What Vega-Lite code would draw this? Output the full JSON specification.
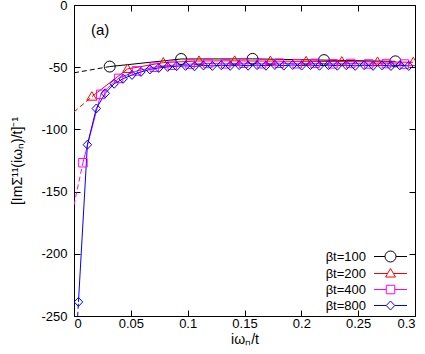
{
  "$schema": "https://vega.github.io/schema/vega-lite/v6.json",
  "width": 341,
  "height": 311,
  "autosize": {"type": "none"},
  "padding": {"left": 74, "top": 5, "right": 10, "bottom": 38},
  "background": "white",
  "config": {
    "view": {"stroke": "black", "strokeWidth": 1},
    "font": "Liberation Sans",
    "axis": {"grid": false, "domain": false, "labelFont": "Liberation Sans", "labelFontSize": 13, "labelColor": "black", "titleFont": "Liberation Sans", "titleFontSize": 14, "titleFontWeight": "normal", "titleColor": "black", "tickColor": "black"}
  },
  "datasets": {
    "curves": [
      {"s": "βt=100", "k": "f", "x": 0, "y": -54.5},
      {"s": "βt=100", "k": "f", "x": 0.03142, "y": -49.5},
      {"s": "βt=200", "k": "f", "x": 0, "y": -86},
      {"s": "βt=200", "k": "f", "x": 0.01571, "y": -73.7},
      {"s": "βt=400", "k": "f", "x": 0, "y": -160.8},
      {"s": "βt=400", "k": "f", "x": 0.00785, "y": -126.8},
      {"s": "βt=800", "k": "f", "x": 0, "y": -302},
      {"s": "βt=800", "k": "f", "x": 0.00393, "y": -238.7},
      {"s": "βt=100", "k": "d", "x": 0.03142, "y": -49.5},
      {"s": "βt=100", "k": "d", "x": 0.09425, "y": -43.4},
      {"s": "βt=100", "k": "d", "x": 0.15708, "y": -43.3},
      {"s": "βt=100", "k": "d", "x": 0.21991, "y": -44.3},
      {"s": "βt=100", "k": "d", "x": 0.28274, "y": -45.3},
      {"s": "βt=200", "k": "d", "x": 0.01571, "y": -73.7},
      {"s": "βt=200", "k": "d", "x": 0.04712, "y": -51.4},
      {"s": "βt=200", "k": "d", "x": 0.07854, "y": -46.3},
      {"s": "βt=200", "k": "d", "x": 0.10996, "y": -45.0},
      {"s": "βt=200", "k": "d", "x": 0.14137, "y": -44.9},
      {"s": "βt=200", "k": "d", "x": 0.17279, "y": -45.1},
      {"s": "βt=200", "k": "d", "x": 0.20420, "y": -45.3},
      {"s": "βt=200", "k": "d", "x": 0.23562, "y": -45.5},
      {"s": "βt=200", "k": "d", "x": 0.26704, "y": -45.8},
      {"s": "βt=200", "k": "d", "x": 0.29845, "y": -46.0},
      {"s": "βt=400", "k": "d", "x": 0.00785, "y": -126.8},
      {"s": "βt=400", "k": "d", "x": 0.02356, "y": -71.8},
      {"s": "βt=400", "k": "d", "x": 0.03927, "y": -59.0},
      {"s": "βt=400", "k": "d", "x": 0.05498, "y": -53.0},
      {"s": "βt=400", "k": "d", "x": 0.07069, "y": -50.0},
      {"s": "βt=400", "k": "d", "x": 0.08639, "y": -48.4},
      {"s": "βt=400", "k": "d", "x": 0.10210, "y": -47.5},
      {"s": "βt=400", "k": "d", "x": 0.11781, "y": -47.0},
      {"s": "βt=400", "k": "d", "x": 0.13352, "y": -47.3},
      {"s": "βt=400", "k": "d", "x": 0.14923, "y": -46.8},
      {"s": "βt=400", "k": "d", "x": 0.16493, "y": -47.2},
      {"s": "βt=400", "k": "d", "x": 0.18064, "y": -46.8},
      {"s": "βt=400", "k": "d", "x": 0.19635, "y": -47.2},
      {"s": "βt=400", "k": "d", "x": 0.21206, "y": -46.9},
      {"s": "βt=400", "k": "d", "x": 0.22777, "y": -47.3},
      {"s": "βt=400", "k": "d", "x": 0.24347, "y": -47.0},
      {"s": "βt=400", "k": "d", "x": 0.25918, "y": -47.4},
      {"s": "βt=400", "k": "d", "x": 0.27489, "y": -47.1},
      {"s": "βt=400", "k": "d", "x": 0.29060, "y": -47.5},
      {"s": "βt=800", "k": "d", "x": 0.00393, "y": -238.7},
      {"s": "βt=800", "k": "d", "x": 0.01178, "y": -112.3},
      {"s": "βt=800", "k": "d", "x": 0.01963, "y": -83.2},
      {"s": "βt=800", "k": "d", "x": 0.02749, "y": -71.0},
      {"s": "βt=800", "k": "d", "x": 0.03534, "y": -63.3},
      {"s": "βt=800", "k": "d", "x": 0.04320, "y": -59.3},
      {"s": "βt=800", "k": "d", "x": 0.05105, "y": -56.2},
      {"s": "βt=800", "k": "d", "x": 0.05890, "y": -53.8},
      {"s": "βt=800", "k": "d", "x": 0.06676, "y": -51.8},
      {"s": "βt=800", "k": "d", "x": 0.07461, "y": -50.6},
      {"s": "βt=800", "k": "d", "x": 0.08247, "y": -49.8},
      {"s": "βt=800", "k": "d", "x": 0.09032, "y": -49.2},
      {"s": "βt=800", "k": "d", "x": 0.09817, "y": -48.9},
      {"s": "βt=800", "k": "d", "x": 0.10603, "y": -49.3},
      {"s": "βt=800", "k": "d", "x": 0.11388, "y": -48.6},
      {"s": "βt=800", "k": "d", "x": 0.12174, "y": -49.0},
      {"s": "βt=800", "k": "d", "x": 0.12959, "y": -48.4},
      {"s": "βt=800", "k": "d", "x": 0.13744, "y": -48.9},
      {"s": "βt=800", "k": "d", "x": 0.14530, "y": -48.3},
      {"s": "βt=800", "k": "d", "x": 0.15315, "y": -48.8},
      {"s": "βt=800", "k": "d", "x": 0.16101, "y": -48.3},
      {"s": "βt=800", "k": "d", "x": 0.16886, "y": -48.8},
      {"s": "βt=800", "k": "d", "x": 0.17671, "y": -48.2},
      {"s": "βt=800", "k": "d", "x": 0.18457, "y": -48.7},
      {"s": "βt=800", "k": "d", "x": 0.19242, "y": -48.2},
      {"s": "βt=800", "k": "d", "x": 0.20028, "y": -48.7},
      {"s": "βt=800", "k": "d", "x": 0.20813, "y": -48.3},
      {"s": "βt=800", "k": "d", "x": 0.21598, "y": -48.8},
      {"s": "βt=800", "k": "d", "x": 0.22384, "y": -48.3},
      {"s": "βt=800", "k": "d", "x": 0.23169, "y": -48.8},
      {"s": "βt=800", "k": "d", "x": 0.23955, "y": -48.4},
      {"s": "βt=800", "k": "d", "x": 0.24740, "y": -48.9},
      {"s": "βt=800", "k": "d", "x": 0.25525, "y": -48.4},
      {"s": "βt=800", "k": "d", "x": 0.26311, "y": -48.9},
      {"s": "βt=800", "k": "d", "x": 0.27096, "y": -48.5},
      {"s": "βt=800", "k": "d", "x": 0.27882, "y": -49.0},
      {"s": "βt=800", "k": "d", "x": 0.28667, "y": -48.5},
      {"s": "βt=800", "k": "d", "x": 0.29452, "y": -49.0}
    ],
    "notes": [{"label": "(a)", "x": 0.023, "y": -20}]
  },
  "resolve": {"axis": {"x": "independent", "y": "independent"}},
  "layer": [
    {
      "data": {"name": "curves"},
      "transform": [{"filter": "datum.k == 'f'"}],
      "mark": {"type": "line", "strokeDash": [5, 3], "strokeWidth": 1, "clip": true},
      "encoding": {
        "x": {"field": "x", "type": "quantitative", "scale": {"domain": [0, 0.3], "nice": false, "zero": false},
              "axis": {"orient": "top", "labels": false, "title": null, "tickSize": -6, "values": [0, 0.05, 0.1, 0.15, 0.2, 0.25, 0.3]}},
        "y": {"field": "y", "type": "quantitative", "scale": {"domain": [-250, 0], "nice": false, "zero": false},
              "axis": {"orient": "right", "labels": false, "title": null, "tickSize": -6, "values": [0, -50, -100, -150, -200, -250]}},
        "color": {
          "field": "s", "type": "nominal",
          "scale": {"domain": ["βt=100", "βt=200", "βt=400", "βt=800"], "range": ["#000000", "#ff0000", "#ff00ff", "#0000ff"]},
          "legend": {
            "orient": "none", "legendX": 310, "legendY": 245, "title": null, "padding": 0, "rowPadding": 2,
            "labelFont": "Liberation Sans", "labelFontSize": 13, "labelColor": "black", "labelAlign": "right", "labelOffset": -31,
            "symbolSize": 100, "symbolStrokeWidth": 1, "symbolFillColor": "transparent",
            "encode": {
              "symbols": {
                "update": {
                  "shape": {"signal": "datum.value == 'βt=100' ? 'M-3.3,0H-1.1M1.1,0H3.3M1.1,0A1.1,1.1,0,1,1,-1.1,0A1.1,1.1,0,1,1,1.1,0' : datum.value == 'βt=200' ? 'M-3.3,0H-0.59M0.59,0H3.3M0,-1L1,0.7L-1,0.7Z' : datum.value == 'βt=400' ? 'M-3.3,0H-0.85M0.85,0H3.3M-0.85,-0.85H0.85V0.85H-0.85Z' : 'M-3.3,0H-0.85M0.85,0H3.3M0,-0.9L0.85,0L0,0.9L-0.85,0Z'"},
                  "fill": {"value": "transparent"},
                  "strokeDash": {"value": []}
                }
              }
            }
          }
        },
        "detail": {"field": "s"}
      }
    },
    {
      "data": {"name": "curves"},
      "transform": [{"filter": "datum.k == 'd'"}],
      "mark": {"type": "line", "strokeWidth": 1, "clip": true},
      "encoding": {
        "x": {"field": "x", "type": "quantitative",
              "axis": {"orient": "bottom", "title": "iωₙ/t", "tickSize": -6, "labelPadding": 7, "titlePadding": 2, "values": [0, 0.05, 0.1, 0.15, 0.2, 0.25, 0.3], "labelExpr": "toString(datum.value)"}},
        "y": {"field": "y", "type": "quantitative",
              "axis": {"orient": "left", "title": "[ImΣ¹¹(iωₙ)/t]⁻¹", "tickSize": -6, "labelPadding": 13, "titlePadding": 16, "values": [0, -50, -100, -150, -200, -250], "labelExpr": "toString(datum.value)"}},
        "color": {"field": "s", "type": "nominal"}
      }
    },
    {
      "data": {"name": "curves"},
      "transform": [{"filter": "datum.k == 'd' && datum.s == 'βt=100'"}],
      "mark": {"type": "point", "filled": false, "size": 100, "strokeWidth": 1, "opacity": 1, "clip": true, "shape": "M1.1,0A1.1,1.1,0,1,1,-1.1,0A1.1,1.1,0,1,1,1.1,0"},
      "encoding": {
        "x": {"field": "x", "type": "quantitative", "axis": null},
        "y": {"field": "y", "type": "quantitative", "axis": null},
        "color": {"field": "s", "type": "nominal"}
      }
    },
    {
      "data": {"name": "curves"},
      "transform": [{"filter": "datum.k == 'd' && datum.s == 'βt=200'"}],
      "mark": {"type": "point", "filled": false, "size": 100, "strokeWidth": 1, "opacity": 1, "clip": true, "shape": "M0,-1L1,0.7L-1,0.7Z"},
      "encoding": {
        "x": {"field": "x", "type": "quantitative", "axis": null},
        "y": {"field": "y", "type": "quantitative", "axis": null},
        "color": {"field": "s", "type": "nominal"}
      }
    },
    {
      "data": {"name": "curves"},
      "transform": [{"filter": "datum.k == 'd' && datum.s == 'βt=400'"}],
      "mark": {"type": "point", "filled": false, "size": 100, "strokeWidth": 1, "opacity": 1, "clip": true, "shape": "M-0.85,-0.85H0.85V0.85H-0.85Z"},
      "encoding": {
        "x": {"field": "x", "type": "quantitative", "axis": null},
        "y": {"field": "y", "type": "quantitative", "axis": null},
        "color": {"field": "s", "type": "nominal"}
      }
    },
    {
      "data": {"name": "curves"},
      "transform": [{"filter": "datum.k == 'd' && datum.s == 'βt=800'"}],
      "mark": {"type": "point", "filled": false, "size": 100, "strokeWidth": 1, "opacity": 1, "clip": true, "shape": "M0,-0.9L0.85,0L0,0.9L-0.85,0Z"},
      "encoding": {
        "x": {"field": "x", "type": "quantitative", "axis": null},
        "y": {"field": "y", "type": "quantitative", "axis": null},
        "color": {"field": "s", "type": "nominal"}
      }
    },
    {
      "data": {"name": "notes"},
      "mark": {"type": "text", "fontSize": 15, "font": "Liberation Sans", "color": "black"},
      "encoding": {
        "x": {"field": "x", "type": "quantitative", "axis": null},
        "y": {"field": "y", "type": "quantitative", "axis": null},
        "text": {"field": "label"}
      }
    }
  ]
}
